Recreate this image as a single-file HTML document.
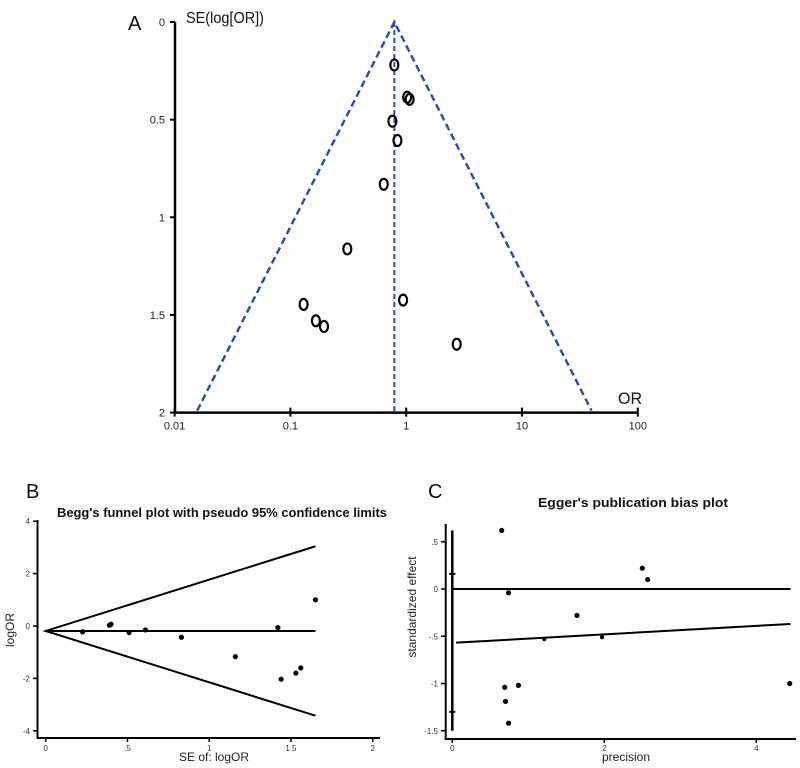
<!DOCTYPE html>
<html><head><meta charset="utf-8">
<style>
html,body{margin:0;padding:0;background:#fff;}
svg{display:block;font-family:"Liberation Sans",sans-serif;}
</style></head>
<body>
<svg id="fig" width="800" height="768" viewBox="0 0 800 768">
<g id="pa"></g>
<g id="pb"></g>
<g id="pc"></g>
</svg>
<script>
// Panel A data
const aOR = [0.79, 1.02, 1.07, 0.76, 0.84, 0.64, 0.31, 0.13, 0.166, 0.195, 0.94, 2.73];
const aSE = [0.22, 0.385, 0.396, 0.508, 0.607, 0.831, 1.162, 1.446, 1.53, 1.559, 1.424, 1.65];
const aPooled = 0.79;
const aXTicks = [0.01, 0.1, 1, 10, 100];
const aXTickLabels = ["0.01", "0.1", "1", "10", "100"];
const aYTicks = [0, 0.5, 1, 1.5, 2];
const aYTickLabels = ["0", "0.5", "1", "1.5", "2"];
// Panel B data
const bSE = [0.226, 0.39, 0.40, 0.51, 0.61, 0.83, 1.16, 1.42, 1.44, 1.53, 1.56, 1.65];
const bLogOR = [-0.22, 0.03, 0.07, -0.25, -0.15, -0.43, -1.17, -0.06, -2.03, -1.8, -1.6, 1.0];
const bPooled = -0.19;
const bMaxSE = 1.65;
const bXTicks = [0, 0.5, 1, 1.5, 2];
const bXTickLabels = ["0", ".5", "1", "1.5", "2"];
const bYTicks = [4, 2, 0, -2, -4];
const bYTickLabels = ["4", "2", "0", "-2", "-4"];
// Panel C data
const cPrec = [0.65, 0.74, 0.69, 0.70, 0.74, 0.87, 1.21, 1.64, 1.97, 2.50, 2.57, 4.44];
const cEff = [0.62, -0.04, -1.04, -1.19, -1.42, -1.02, -0.53, -0.28, -0.51, 0.22, 0.10, -1.0];
const cSmall = [false,false,false,false,false,false,true,false,true,false,false,false];
const cIntercept = -0.57;
const cSlope = 0.045;
const cCI = [0.62, -1.5];
const cCIMarks = [0.16, -1.3];
const cXMax = 4.45;
const cXTicks = [0, 2, 4];
const cXTickLabels = ["0", "2", "4"];
const cYTicks = [0.5, 0, -0.5, -1, -1.5];
const cYTickLabels = [".5", "0", "-.5", "-1", "-1.5"];

const NS = "http://www.w3.org/2000/svg";
function mk(parent, tag, attrs, text){
  const e = document.createElementNS(NS, tag);
  for (const k in attrs) e.setAttribute(k, attrs[k]);
  if (text !== undefined) e.textContent = text;
  parent.appendChild(e);
  return e;
}

// ---------- Panel A ----------
(function(){
  const g = document.getElementById('pa');
  const x = v => 174.6 + (Math.log10(v) + 2) * 115.8;
  const y = v => 22 + v * 195.3;
  let e;
  e = mk(g,'text',{x:128,y:30,'font-size':20,fill:'#111'},'A');
   
  e = mk(g,'text',{x:186,y:23,'font-size':16,fill:'#111',textLength:78,lengthAdjust:'spacingAndGlyphs'},'SE(log[OR])');
   
  e = mk(g,'text',{x:618,y:404,'font-size':17,fill:'#111',textLength:24,lengthAdjust:'spacingAndGlyphs'},'OR');
   
  e = mk(g,'line',{x1:175,y1:y(0),x2:175,y2:y(2)+1,stroke:'#000','stroke-width':2.5});
   
  e = mk(g,'line',{x1:174,y1:y(2),x2:x(100),y2:y(2),stroke:'#000','stroke-width':2.5});
   
  aYTicks.forEach((t,i)=>{
    let l = mk(g,'line',{x1:170,y1:y(t),x2:175,y2:y(t),stroke:'#000','stroke-width':2});
     
    let tx = mk(g,'text',{x:165,y:y(t)+4,'font-size':11,'text-anchor':'end',fill:'#222'},aYTickLabels[i]);
     
  });
  aXTicks.forEach((t,i)=>{
    let l = mk(g,'line',{x1:x(t),y1:y(2)-5,x2:x(t),y2:y(2)+4,stroke:'#000','stroke-width':2});
     
    let tx = mk(g,'text',{x:x(t),y:y(2)+17,'font-size':11,'text-anchor':'middle',fill:'#222'},aXTickLabels[i]);
     
  });
  const k = 1.96/Math.LN10;
  const lp = Math.log10(aPooled);
  const lo = Math.pow(10, lp - k*2), hi = Math.pow(10, lp + k*2);
  e = mk(g,'polyline',{points:`${x(lo)},${y(2)-2} ${x(aPooled)},${y(0)} ${x(hi)},${y(2)-2}`,fill:'none',stroke:'#2e4fb0','stroke-width':2.5,'stroke-dasharray':'7,4'});
   
  e = mk(g,'line',{x1:x(aPooled),y1:y(0),x2:x(aPooled),y2:y(2),stroke:'#2e4fb0','stroke-width':2,'stroke-dasharray':'5,3'});
   
  aOR.forEach((v,i)=>{
    let c = mk(g,'ellipse',{cx:x(v),cy:y(aSE[i]),rx:4,ry:5.5,fill:'none',stroke:'#000','stroke-width':2.2});
     
  });
})();

// ---------- Panel B ----------
(function(){
  const g = document.getElementById('pb');
  const x = v => 45.7 + v * 163.5;
  const y = v => 626 - v * 26.2;
  let e;
  e = mk(g,'text',{x:26,y:498,'font-size':20,fill:'#111'},'B');
   
  e = mk(g,'text',{x:222,y:517,'font-size':12.5,'font-weight':'bold','text-anchor':'middle',fill:'#111',textLength:330,lengthAdjust:'spacingAndGlyphs'},"Begg's funnel plot with pseudo 95% confidence limits");
   
  e = mk(g,'text',{x:14,y:630,'font-size':12,'text-anchor':'middle',fill:'#222',transform:'rotate(-90 14 630)'},'logOR');
   
  e = mk(g,'text',{x:214,y:761,'font-size':12,'text-anchor':'middle',fill:'#222'},'SE of: logOR');
   
  e = mk(g,'line',{x1:37.5,y1:520,x2:37.5,y2:739,stroke:'#000','stroke-width':2});
   
  e = mk(g,'line',{x1:36.5,y1:738,x2:380,y2:738,stroke:'#000','stroke-width':2});
   
  bYTicks.forEach((t,i)=>{
    let l = mk(g,'line',{x1:33,y1:y(t),x2:37,y2:y(t),stroke:'#000','stroke-width':1.5});
     
    let tx = mk(g,'text',{x:30,y:y(t)+3,'font-size':8,'text-anchor':'end',fill:'#333'},bYTickLabels[i]);
     
  });
  bXTicks.forEach((t,i)=>{
    let l = mk(g,'line',{x1:x(t),y1:738,x2:x(t),y2:742,stroke:'#000','stroke-width':1.5});
     
    let tx = mk(g,'text',{x:x(t),y:751,'font-size':8,'text-anchor':'middle',fill:'#333'},bXTickLabels[i]);
     
  });
  e = mk(g,'polyline',{points:`${x(bMaxSE)},${y(bPooled+1.96*bMaxSE)} ${x(0)},${y(bPooled)} ${x(bMaxSE)},${y(bPooled-1.96*bMaxSE)}`,fill:'none',stroke:'#000','stroke-width':2});
   
  e = mk(g,'line',{x1:x(0),y1:y(bPooled),x2:x(bMaxSE),y2:y(bPooled),stroke:'#000','stroke-width':2});
   
  bSE.forEach((v,i)=>{
    let c = mk(g,'circle',{cx:x(v),cy:y(bLogOR[i]),r:2.6,fill:'#000'});
     
  });
})();

// ---------- Panel C ----------
(function(){
  const g = document.getElementById('pc');
  const x = v => 452.3 + v * 76;
  const y = v => 589 - v * 94.5;
  let e;
  e = mk(g,'text',{x:428,y:498,'font-size':20,fill:'#111'},'C');
   
  e = mk(g,'text',{x:633,y:507,'font-size':12.5,'font-weight':'bold','text-anchor':'middle',fill:'#111',textLength:190,lengthAdjust:'spacingAndGlyphs'},"Egger's publication bias plot");
   
  e = mk(g,'text',{x:416,y:607,'font-size':12,'text-anchor':'middle',fill:'#222',transform:'rotate(-90 416 607)'},'standardized effect');
   
  e = mk(g,'text',{x:626,y:761,'font-size':12,'text-anchor':'middle',fill:'#222'},'precision');
   
  e = mk(g,'line',{x1:445.7,y1:524,x2:445.7,y2:740,stroke:'#000','stroke-width':2});
   
  e = mk(g,'line',{x1:444.7,y1:739,x2:796,y2:739,stroke:'#000','stroke-width':2});
   
  cYTicks.forEach((t,i)=>{
    let l = mk(g,'line',{x1:441,y1:y(t),x2:445,y2:y(t),stroke:'#000','stroke-width':1.5});
     
    let tx = mk(g,'text',{x:438,y:y(t)+3,'font-size':8,'text-anchor':'end',fill:'#333'},cYTickLabels[i]);
     
  });
  cXTicks.forEach((t,i)=>{
    let l = mk(g,'line',{x1:x(t),y1:739,x2:x(t),y2:743,stroke:'#000','stroke-width':1.5});
     
    let tx = mk(g,'text',{x:x(t),y:751,'font-size':8,'text-anchor':'middle',fill:'#333'},cXTickLabels[i]);
     
  });
  e = mk(g,'line',{x1:x(0),y1:y(cCI[0]),x2:x(0),y2:y(cCI[1]),stroke:'#000','stroke-width':2.5});
   
  cCIMarks.forEach(v=>{
    let m = mk(g,'line',{x1:x(0)-3,y1:y(v),x2:x(0)+3,y2:y(v),stroke:'#000','stroke-width':2});
     
  });
  e = mk(g,'line',{x1:x(0),y1:y(0),x2:x(cXMax),y2:y(0),stroke:'#000','stroke-width':2});
   
  e = mk(g,'line',{x1:x(0.05),y1:y(cIntercept+cSlope*0.05),x2:x(cXMax),y2:y(cIntercept+cSlope*cXMax),stroke:'#000','stroke-width':2});
   
  cPrec.forEach((v,i)=>{
    let c = mk(g,'circle',{cx:x(v),cy:y(cEff[i]),r:cSmall[i]?2:2.6,fill:'#000'});
     
  });
})();
</script>
</body></html>
